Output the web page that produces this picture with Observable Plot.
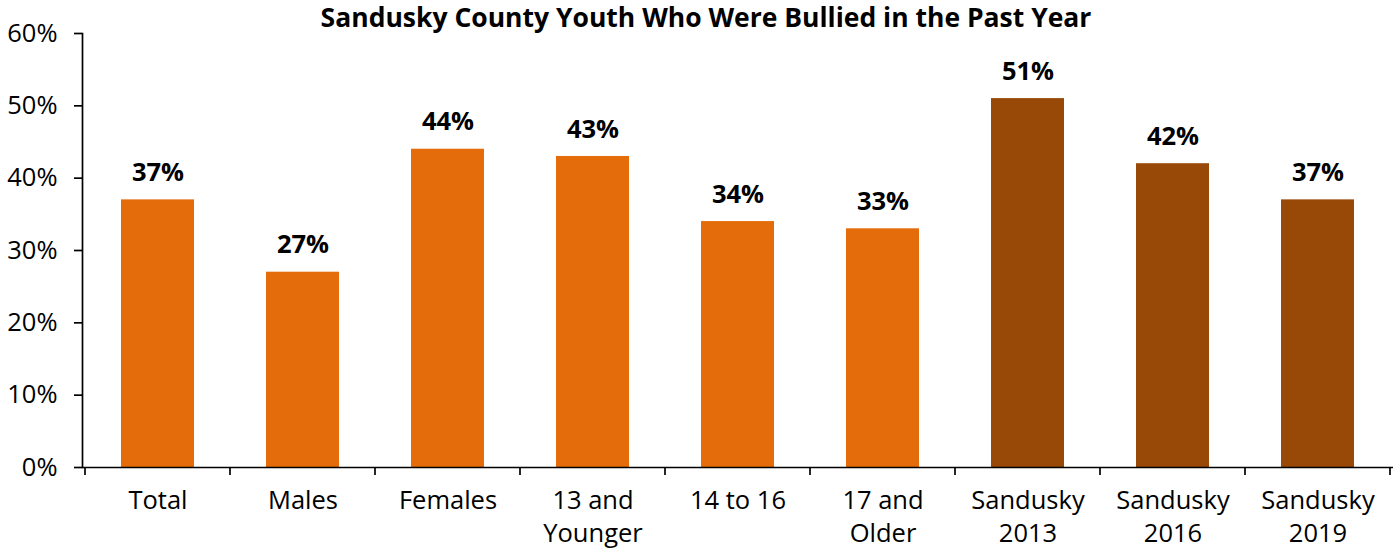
<!DOCTYPE html>
<html>
<head>
<meta charset="utf-8">
<script src="https://cdn.jsdelivr.net/npm/d3@7"></script>
<script src="https://cdn.jsdelivr.net/npm/@observablehq/plot@0.6"></script>
<style>
  html, body { margin: 0; padding: 0; background: #fff; }
  #chart svg { display: block; }
</style>
</head>
<body>
<div id="chart"></div>
<script>
const categories = ["Total", "Males", "Females", "13 and\nYounger", "14 to 16", "17 and\nOlder", "Sandusky\n2013", "Sandusky\n2016", "Sandusky\n2019"];
const values = [37, 27, 44, 43, 34, 33, 51, 42, 37];
const groups = ["current", "current", "current", "current", "current", "current", "trend", "trend", "trend"];
const yTicks = [0, 10, 20, 30, 40, 50, 60];
const title = "Sandusky County Youth Who Were Bullied in the Past Year";

const data = categories.map((c, i) => ({category: c, value: values[i], group: groups[i]}));

const font = "'Open Sans', 'Noto Sans', sans-serif";

// tick marks at the boundaries of the bands, drawn via the x scale
const boundaryTicks = (index, scales, values, dims) => {
  const g = d3.create("svg:g");
  const bw = scales.x.bandwidth ? scales.x.bandwidth() : 0;
  const step = scales.x.step ? scales.x.step() : bw;
  const y0 = scales.y(0);
  const xs = categories.map(c => scales.x(c) - (step - bw) / 2);
  xs.push(scales.x(categories[categories.length - 1]) + bw + (step - bw) / 2);
  for (const x of xs) {
    g.append("line")
      .attr("x1", x).attr("x2", x)
      .attr("y1", y0).attr("y2", y0 + 8)
      .attr("stroke", "#000").attr("stroke-width", 1.7);
  }
  return g.node();
};

const chart = Plot.plot({
  width: 1395,
  height: 550,
  marginLeft: 82,
  marginRight: 2,
  marginTop: 33,
  marginBottom: 83,
  style: {fontFamily: font, background: "#fff", color: "#000"},
  x: {domain: categories, paddingInner: 0.5, paddingOuter: 0.25, align: 0.5},
  y: {domain: [0, 60]},
  color: {domain: ["current", "trend"], range: ["#E46C0A", "#984807"]},
  marks: [
    Plot.barY(data, {x: "category", y: "value", fill: "group"}),
    Plot.axisY({ticks: yTicks, tickSize: 8, tickPadding: 17, tickFormat: d => d + "%", fontSize: 25.5, stroke: "#000", strokeWidth: 1.7, strokeOpacity: 1, label: null, fill: "#000"}),
    Plot.axisX({tickSize: 0, tickPadding: 18, fontSize: 25.5, lineHeight: 1.3, label: null, fill: "#000"}),
    Plot.frame({anchor: "left", stroke: "#000", strokeWidth: 1.7}),
    Plot.ruleY([0], {stroke: "#000", strokeWidth: 1.7}),
    boundaryTicks,
    Plot.text(data, {x: "category", y: "value", text: d => d.value + "%", dy: -27, lineAnchor: "middle", fontSize: 25.5, fontWeight: "bold", fill: "#000"}),
    Plot.text([title], {frameAnchor: "top", dx: -32, dy: -15, lineAnchor: "middle", fontSize: 26.5, fontWeight: "bold", fill: "#000"})
  ]
});

document.getElementById("chart").appendChild(chart);
</script>
</body>
</html>
